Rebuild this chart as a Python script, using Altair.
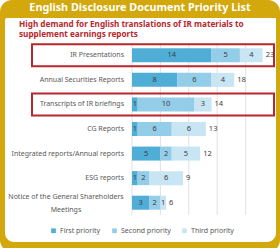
import altair as alt
import pandas as pd

categories = [
    "IR Presentations",
    "Annual Securities Reports",
    "Transcripts of IR briefings",
    "CG Reports",
    "Integrated reports/Annual reports",
    "ESG reports",
    "Notice of the General Shareholders Meetings",
]
first = [14, 8, 1, 1, 5, 1, 3]
second = [5, 6, 10, 6, 2, 2, 2]
third = [4, 4, 3, 6, 5, 6, 1]
priorities = ["First priority", "Second priority", "Third priority"]
highlighted = ["IR Presentations", "Transcripts of IR briefings"]
grid_values = [0, 5, 10, 15, 20]
title_text = "English Disclosure Document Priority List"
subtitle_lines = ["High demand for English translations of IR materials to",
                  "supplement earnings reports"]

colors = ["#4FADD6", "#93CDE8", "#C8E5F4"]
GOLD = "#D2A80C"
RED = "#B8272E"
FONT = "Noto Sans"
W, H = 142, 172

rows = []
for i, c in enumerate(categories):
    for k, (p, vals) in enumerate(zip(priorities, [first, second, third])):
        rows.append({"category": c, "priority": p, "order": k, "value": vals[i]})
long = pd.DataFrame(rows)
tot = pd.DataFrame({"category": categories,
                    "total": [a + b + c for a, b, c in zip(first, second, third)],
                    "hl": [c in highlighted for c in categories],
                    "wrap": [c.startswith("Notice") for c in categories]})
grid = pd.DataFrame({"g": grid_values})
one = pd.DataFrame({"a": [0]})

yenc = alt.Y("category:N", sort=categories, axis=None,
             scale=alt.Scale(paddingInner=0, paddingOuter=0))
xscale = alt.Scale(domain=[0, 25])

frame = alt.Chart(one).mark_rect(fill=GOLD, cornerRadius=12).encode(
    x=alt.value(-132), x2=alt.value(148), y=alt.value(-43), y2=alt.value(209))
panel = alt.Chart(one).mark_rect(fill="white", cornerRadiusBottomLeft=9,
                                 cornerRadiusBottomRight=9, cornerRadiusTopLeft=2).encode(
    x=alt.value(-127), x2=alt.value(144), y=alt.value(-25), y2=alt.value(199))

title = alt.Chart(one).mark_text(font=FONT, fontSize=10.8, fontWeight="bold",
                                 color="white", align="center", baseline="middle").encode(
    x=alt.value(8), y=alt.value(-35), text=alt.value(title_text))
sub = alt.Chart(one).mark_text(font=FONT, fontSize=8.2, fontWeight="bold", color=RED,
                               align="left", baseline="middle", lineBreak="\n",
                               lineHeight=10).encode(
    x=alt.value(-113), y=alt.value(-18), text=alt.value("\n".join(subtitle_lines)))

gridlines = alt.Chart(grid).mark_rule(color="#D9D9D9", strokeWidth=0.8).encode(
    x=alt.X("g:Q", scale=xscale, axis=None), y=alt.value(0), y2=alt.value(H))

boxes = alt.Chart(tot).transform_filter("datum.hl").mark_rect(
    fillOpacity=0, stroke=RED, strokeWidth=2, height=22).encode(
    y=yenc, x=alt.value(-100), x2=alt.value(142))

bars = alt.Chart(long).mark_bar(size=14).encode(
    x=alt.X("value:Q", stack="zero", scale=xscale, axis=None),
    y=yenc,
    color=alt.Color("priority:N", scale=alt.Scale(domain=priorities, range=colors),
                    legend=alt.Legend(title=None, orient="none", direction="horizontal",
                                      legendX=-82, legendY=184, symbolType="square",
                                      symbolSize=22, symbolStrokeWidth=0,
                                      labelFont=FONT, labelFontSize=7,
                                      labelColor="#595959", columnPadding=10,
                                      labelOffset=3)),
    order=alt.Order("order:Q"))

seg = alt.Chart(long).transform_stack(
    stack="value", groupby=["category"], sort=[alt.SortField("order")], as_=["v0", "v1"]
).transform_calculate(mid="(datum.v0 + datum.v1) / 2").mark_text(
    font=FONT, fontSize=7.5, color="#404040", baseline="middle").encode(
    x=alt.X("mid:Q", scale=xscale, axis=None), y=yenc, text="value:Q")

totals = alt.Chart(tot).mark_text(font=FONT, fontSize=7.5, color="#404040",
                                  align="left", baseline="middle", dx=3).encode(
    x=alt.X("total:Q", scale=xscale, axis=None), y=yenc, text="total:Q")

ylab = alt.Chart(tot).transform_filter("!datum.wrap").mark_text(
    font=FONT, fontSize=7, color="#595959", align="right", baseline="middle").encode(
    x=alt.value(-8), y=yenc, text="category:N")
ylab2 = alt.Chart(tot).transform_filter("datum.wrap").transform_calculate(
    lab="['Notice of the General Shareholders', 'Meetings']").mark_text(
    font=FONT, fontSize=7, color="#595959", align="center", baseline="middle",
    lineHeight=13, dy=-6).encode(
    x=alt.value(-66), y=yenc, text="lab:N")

chart = alt.layer(frame, panel, title, sub, gridlines, boxes, bars, seg, totals,
                  ylab, ylab2).properties(
    width=W, height=H,
    autosize=alt.AutoSizeParams(type="none"),
    padding={"left": 132, "top": 43, "right": 6, "bottom": 33},
    background="white",
).configure_view(stroke="transparent")

chart.save("out.html", embed_options={"renderer": "svg", "actions": False})
